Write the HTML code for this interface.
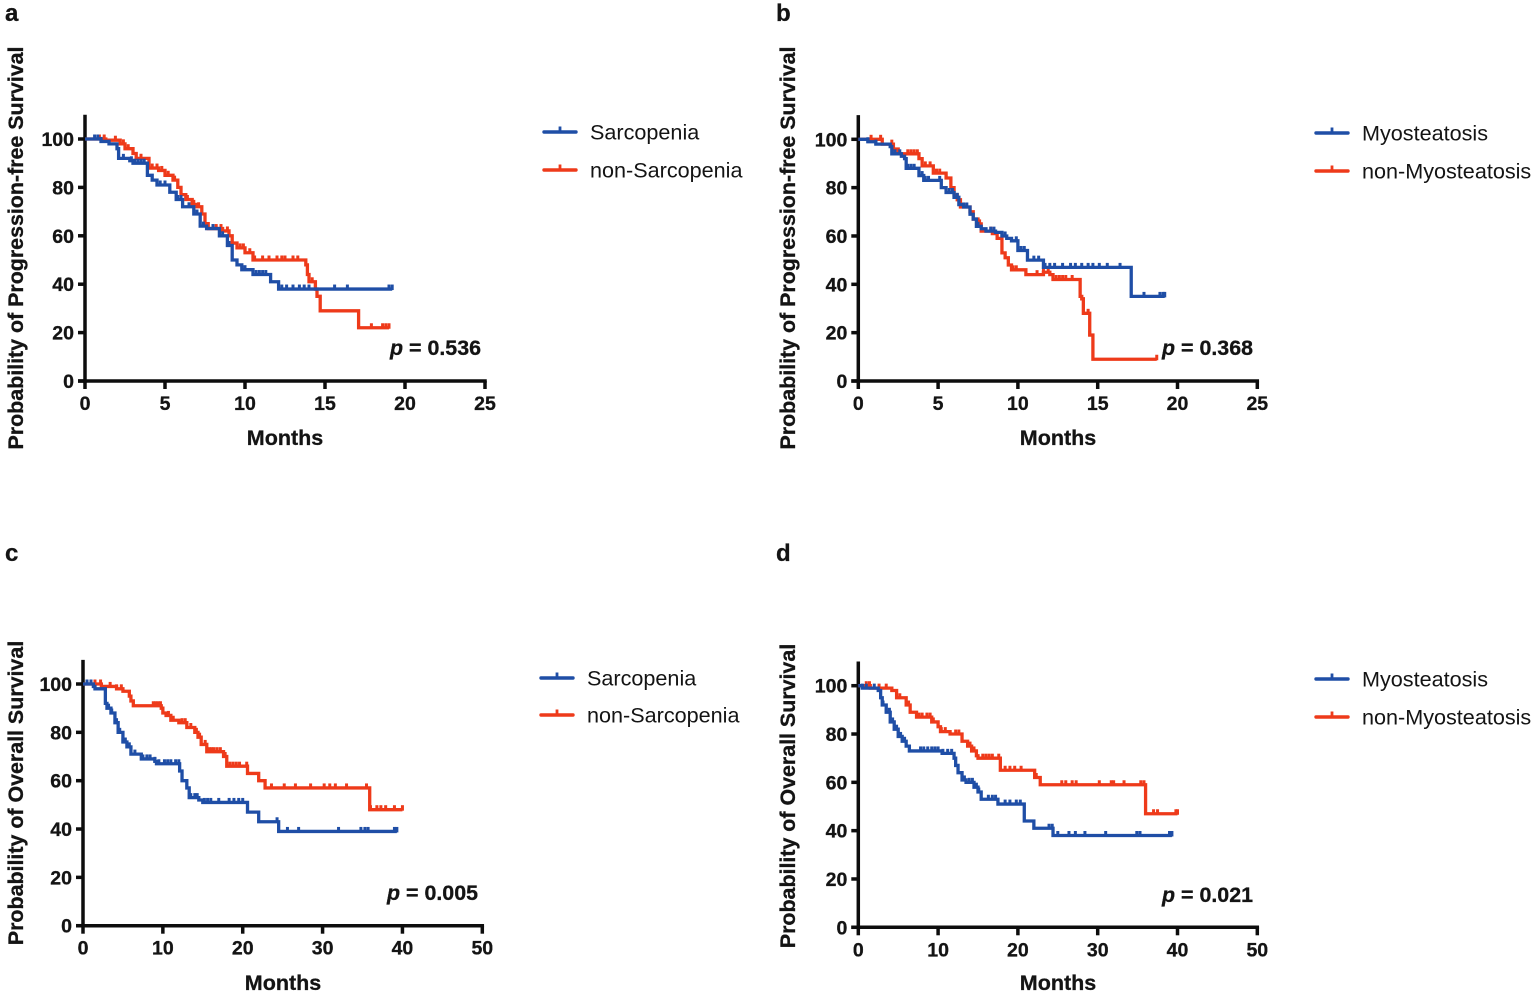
<!DOCTYPE html>
<html lang="en">
<head>
<meta charset="utf-8">
<title>Kaplan-Meier survival curves</title>
<style>
html,body{margin:0;padding:0;background:#fff;}
svg{display:block;font-family:"Liberation Sans",sans-serif;color:#111;}
text{fill:#141414;}
text[font-weight="bold"]{stroke:#141414;stroke-width:.3px;}
</style>
</head>
<body>
<svg id="figure" xmlns="http://www.w3.org/2000/svg" width="1535" height="997" viewBox="0 0 1535 997"></svg>
<script>
// Panel a
const aBlueTimes=[0,1,1.5,2,2.1,2.8,3,3.9,4.2,4.5,5.3,5.7,6.1,6.8,7.2,7.6,8.4,8.9,9.2,9.5,9.8,10.5,11.6,12.1,19.2];
const aBlueSurv=[100,99,98,96,92,91,90,85,83,81,78,75,72,69,64,63,60,56,50,48,46,44,41,38,38];
const aBlueCensor=[0.6,0.8,1,2.4,2.9,3.1,3.3,3.5,3.7,4.7,5,5.8,6,6.5,7,7.4,8,8.6,9,10,10.7,10.9,11.1,11.3,12.3,12.6,13,13.4,13.7,14,15.6,16.4,19,19.2];
const aRedTimes=[0,1.3,2.2,2.5,3,3.2,4,4.6,5,5.5,5.8,6,6.3,6.7,7,7.3,7.5,7.7,8.6,9,9.2,9.5,10,10.5,13.8,13.9,14,14.4,14.5,14.7,17.1,19];
const aRedSurv=[100,99.5,98,96,94,92,88,87,85,83,80,77,75,73,72,69,65,63,62,60,57,55,53,50,48,44,41,38,35,29,22,22];
const aRedCensor=[0.9,1.2,1.9,2.4,2.7,3.5,3.5,4.2,4.5,4.8,5.2,5.6,6.4,6.8,7.1,8.2,8.5,8.9,9.7,9.9,10.3,10.6,11.1,11.5,12,12.3,12.5,13,13.3,14.2,14.4,17.9,18.6,18.8,19];
// Panel b
const bBlueTimes=[0,0.6,1.1,2,2.1,2.7,2.9,3,3.6,3.8,4.1,4.9,5.2,5.5,6,6.3,6.6,7,7.2,7.4,7.7,8,8.6,9,9.3,9.6,10,10.6,11.4,11.6,17.1,19.2];
const bBlueSurv=[100,99,98,97,94,93,92,88,88,85,83,83,80,78,76,73,72,69,67,64,63,62,61.5,60,59,58,54,50,50,47,35,35];
const bBlueCensor=[0.6,1.1,2.3,2.6,3.1,3.3,3.5,4,4.2,4.4,5.1,5.7,5.9,6.2,6.6,6.8,7.5,8.3,8.5,9,9.2,9.9,10.2,10.4,10.6,11,11.3,11.7,12,12.3,12.8,13.3,13.6,14,14.4,14.7,15.1,15.6,16.4,17.9,18.9,19.1,19.2];
const bRedTimes=[0,1.5,2.2,2.5,3,3.6,3.8,4,4.7,5.5,5.8,6,6.2,6.4,7,7.2,7.5,7.7,8.4,8.7,9,9.2,9.4,9.6,10.5,11.6,12,12.2,13.8,13.9,14,14.1,14.5,14.7,18.7];
const bRedSurv=[100,98,96,94,94,94,92,89,86,84,80,77,75,72,70,67,65,62,61,59,53,51,48,46,44,45,44,42,42,35,34,28,19,9,9];
const bRedCensor=[0.8,1.4,2.1,3.1,3.3,3.5,3.7,4.2,4.5,4.9,5.1,5.5,6.6,7.6,8.3,9.7,9.9,11.2,11.6,11.9,12.2,12.4,12.6,12.8,13,13.4,14.4,14.5,18.7];
// Panel c
const cBlueTimes=[0,1.3,1.5,2.8,3,3.5,4,4.4,5,5.5,6,7.3,9,9.2,11.8,12.1,12.4,13,13.3,14,14.5,15,20.6,22,24.5,39.3];
const cBlueSurv=[100,99,98,92,90,88,84,80,76,74,71,69,68,67,67,64,60,57,53,53,52,51,47,43,39,39];
const cBlueCensor=[0.5,1,3.2,3.6,4.2,4.6,5,5.3,5.8,6.5,7.5,8,8.4,9,9.5,10.2,10.6,11,11.6,12,13.5,14,14.3,15.2,15.6,16,17,18.3,18.9,19.5,20,24.3,25.6,27,32,34.8,35.3,35.7,39,39.3];
const cRedTimes=[0,2.3,4.2,5,5.8,6,6.3,9.8,10,10.4,11,12,13,14,14.4,14.8,15.5,17.6,18,20.6,22,22.8,35.9,40];
const cRedSurv=[100,99,98,97,95,93,91,90,88,87,85,84,82,80,78,75,72,70,66,63,60,57,48,48];
const cRedCensor=[1,1.5,2.2,3.4,4.2,4.8,8.8,9.1,9.4,9.7,10.7,11.3,12.4,12.8,13.5,14.2,14.6,15.3,15.8,16.1,16.4,16.8,17.2,17.8,18.4,18.8,19.2,19.6,20.5,23.6,25.2,26.6,28.5,30.2,30.9,31.6,33,35.5,36,36.8,37.3,37.9,39,40];
// Panel d
const dBlueTimes=[0,0.5,2.5,2.8,3,3.5,4,4.5,5,5.5,6,6.4,10.5,12,12.2,12.5,13,13.5,14.5,15,15.4,17.5,20.8,22,24.4,39.3];
const dBlueSurv=[100,99,98,95,92,89,85,82,79,77,75,73,72,70,67,64,61,60,58,56,53,51,44,41,38,38];
const dBlueCensor=[0.5,1,2,3.1,3.5,3.9,4.3,4.8,5.3,5.8,7.8,8.2,8.7,9.2,9.6,10,10.6,11.2,11.7,13.3,13.9,14.3,14.8,15.1,16.3,16.8,17.2,18.4,19,19.8,20.3,23.9,24.3,25,26.4,27.2,28.4,31,34.9,35.3,39,39.3];
const dRedTimes=[0,1.5,4.2,4.8,6,6.5,7.3,9.2,10,10.3,11.5,13,13.7,14.2,14.8,15,17.8,22.1,22.8,36,40];
const dRedSurv=[100,99,98,95,92,89,87,85,83,81,80,77,75,73,71,70,65,62,59,47,47];
const dRedCensor=[1,1.4,2.6,3.5,5.2,6.3,7.6,8,8.6,9,9.4,10.4,10.9,12.2,12.6,14,14.5,15.6,16,16.4,16.8,17.6,18.4,19,19.6,20.4,22.3,25.5,26,26.8,27.3,30.2,31.7,32,33.3,35.4,35.8,37,37.5,39.8,40];
// Shared axis labels
const xTicksPfs=[0,5,10,15,20,25];
const xTicksOs=[0,10,20,30,40,50];
const yTicks=[0,20,40,60,80,100];

const panels=[
 {id:'a',letter:'a',lx:5,ly:21,x0:85,x1:485,xMax:25,yTop:139,yZero:381,xTicks:xTicksPfs,title:'Probability of Progression-free Survival',tx:23,ty:248,monthsX:285,monthsY:445,p:'0.536',px:390,py:355,
  legX:544,legY1:132,legY2:170,names:['Sarcopenia','non-Sarcopenia'],blueT:aBlueTimes,blueS:aBlueSurv,blueC:aBlueCensor,redT:aRedTimes,redS:aRedSurv,redC:aRedCensor},
 {id:'b',letter:'b',lx:776,ly:21,x0:858.3,x1:1257.3,xMax:25,yTop:139.3,yZero:381,xTicks:xTicksPfs,title:'Probability of Progression-free Survival',tx:795,ty:248,monthsX:1058,monthsY:445,p:'0.368',px:1162,py:355,
  legX:1316,legY1:133,legY2:171,names:['Myosteatosis','non-Myosteatosis'],blueT:bBlueTimes,blueS:bBlueSurv,blueC:bBlueCensor,redT:bRedTimes,redS:bRedSurv,redC:bRedCensor},
 {id:'c',letter:'c',lx:5,ly:561,x0:83,x1:482.3,xMax:50,yTop:684,yZero:925.7,xTicks:xTicksOs,title:'Probability of Overall Survival',tx:23,ty:793,monthsX:283,monthsY:990,p:'0.005',px:387,py:900,
  legX:541,legY1:678,legY2:715,names:['Sarcopenia','non-Sarcopenia'],blueT:cBlueTimes,blueS:cBlueSurv,blueC:cBlueCensor,redT:cRedTimes,redS:cRedSurv,redC:cRedCensor},
 {id:'d',letter:'d',lx:776,ly:561,x0:858.3,x1:1257.3,xMax:50,yTop:685.7,yZero:927.3,xTicks:xTicksOs,title:'Probability of Overall Survival',tx:795,ty:796,monthsX:1058,monthsY:990,p:'0.021',px:1162,py:902,
  legX:1316,legY1:679,legY2:717,names:['Myosteatosis','non-Myosteatosis'],blueT:dBlueTimes,blueS:dBlueSurv,blueC:dBlueCensor,redT:dRedTimes,redS:dRedSurv,redC:dRedCensor}
];

const BLUE='#1f4ea6',RED='#ee3a1a',INK='#0d0d0d';
const NS='http://www.w3.org/2000/svg';
const svg=document.getElementById('figure');

function mk(parent,tag,attrs,txt){
  const e=document.createElementNS(NS,tag);
  for(const k in attrs)e.setAttribute(k,attrs[k]);
  if(txt!==undefined)e.textContent=txt;
  parent.appendChild(e);
  return e;
}
function survAt(times,surv,t){
  let s=surv[0];
  for(let i=0;i<times.length;i++){if(times[i]<=t)s=surv[i];else break;}
  return s;
}
function drawSeries(g,p,times,surv,censor,color,sx,sy,label){
  let d='M'+sx(times[0])+' '+sy(surv[0]);
  for(let i=1;i<times.length;i++){
    d+=' H'+sx(times[i])+' V'+sy(surv[i]);
  }
  const line=mk(g,'path',{d:d,fill:'none',stroke:color,'stroke-width':3.3,'stroke-linejoin':'miter'});
  
  
  censor.forEach(function(t){
    const y=sy(survAt(times,surv,t));
    const m=mk(g,'line',{x1:sx(t),x2:sx(t),y1:y-4.5,y2:y+1,stroke:color,'stroke-width':3});
    
    
  });
}
panels.forEach(function(p){
  const sx=function(t){return +(p.x0+(p.x1-p.x0)*t/p.xMax).toFixed(2);};
  const sy=function(v){return +(p.yZero-(p.yZero-p.yTop)*v/100).toFixed(2);};
  const g=mk(svg,'g',{});
  
  

  const letter=mk(g,'text',{x:p.lx,y:p.ly,'font-size':24,'font-weight':'bold'},p.letter);
  
  

  const yAxis=mk(g,'line',{x1:p.x0,x2:p.x0,y1:sy(110),y2:p.yZero+1.75,stroke:INK,'stroke-width':3.5});
  
  
  const xAxis=mk(g,'line',{x1:p.x0-7,x2:p.x1+1.75,y1:p.yZero,y2:p.yZero,stroke:INK,'stroke-width':3.5});
  
  

  yTicks.forEach(function(v){
    const tick=mk(g,'line',{x1:p.x0-7,x2:p.x0,y1:sy(v),y2:sy(v),stroke:INK,'stroke-width':3.5});
    
    
    const lab=mk(g,'text',{x:p.x0-11,y:sy(v)+7,'font-size':19.5,'font-weight':'bold','text-anchor':'end'},String(v));
    
    
  });
  p.xTicks.forEach(function(v){
    const tick=mk(g,'line',{x1:sx(v),x2:sx(v),y1:p.yZero,y2:p.yZero+8,stroke:INK,'stroke-width':3.5});
    
    
    const lab=mk(g,'text',{x:sx(v),y:p.yZero+29,'font-size':19.5,'font-weight':'bold','text-anchor':'middle'},String(v));
    
    
  });

  const xt=mk(g,'text',{x:p.monthsX,y:p.monthsY,'font-size':21.5,'font-weight':'bold','text-anchor':'middle'},'Months');
  
  
  const yt=mk(g,'text',{x:p.tx,y:p.ty,'font-size':21.4,'font-weight':'bold','text-anchor':'middle',transform:'rotate(-90 '+p.tx+' '+p.ty+')'},p.title);
  
  

  drawSeries(g,p,p.redT,p.redS,p.redC,RED,sx,sy,'non-group');
  drawSeries(g,p,p.blueT,p.blueS,p.blueC,BLUE,sx,sy,'group');

  const pv=mk(g,'text',{x:p.px,y:p.py,'font-size':21.4,'font-weight':'bold'});
  
  
  mk(pv,'tspan',{'font-style':'italic'},'p');
  mk(pv,'tspan',{},' = '+p.p);

  [[p.legY1,BLUE,p.names[0]],[p.legY2,RED,p.names[1]]].forEach(function(row){
    const entry=mk(g,'g',{});
    
    
    mk(entry,'line',{x1:p.legX,x2:p.legX+32,y1:row[0],y2:row[0],stroke:row[1],'stroke-width':3.4,'stroke-linecap':'round'});
    mk(entry,'line',{x1:p.legX+16,x2:p.legX+16,y1:row[0]-5.5,y2:row[0],stroke:row[1],'stroke-width':2.8});
    mk(entry,'text',{x:p.legX+46,y:row[0]+7.5,'font-size':21.6},row[2]);
  });
});
</script>
</body>
</html>
